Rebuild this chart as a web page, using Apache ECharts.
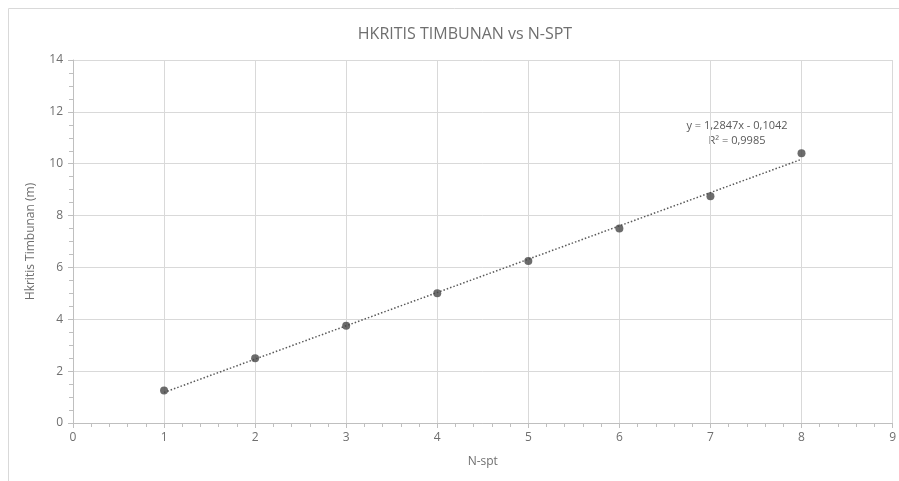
<!DOCTYPE html>
<html>
<head>
<meta charset="utf-8">
<script src="https://cdn.jsdelivr.net/npm/echarts@6/dist/echarts.min.js"></script>
<style>
  html, body { margin: 0; padding: 0; background: #fff; }
  #main { width: 899px; height: 481px; }
</style>
</head>
<body>
<div id="main"></div>
<script>
// data
var nSpt = [1, 2, 3, 4, 5, 6, 7, 8];
var hKritis = [1.25, 2.5, 3.75, 5.0, 6.25, 7.5, 8.75, 10.4];
// linear trendline end points (y = 1,2847x - 0,1042)
var trendX = [1, 8];
var trendY = [1.18, 10.17];
var trendText = ['y = 1,2847x - 0,1042', 'R\u00b2 = 0,9985'];

var chart = echarts.init(document.getElementById('main'));

var points = nSpt.map(function (x, i) { return [x, hKritis[i]]; });
var trend = trendX.map(function (x, i) { return [x, trendY[i]]; });

var font = '"Open Sans", "Liberation Sans", sans-serif';
var grey = '#595959';
var labelGrey = '#6f6f6f';

var option = {
    animation: false,
    textStyle: { fontFamily: font },
    title: {
        text: 'HKRITIS TIMBUNAN vs N-SPT',
        left: 460,
        top: 21,
        textAlign: 'center',
        textStyle: { fontSize: 16, fontWeight: 'normal', color: '#6f6f6f', fontFamily: font }
    },
    grid: { left: 73, right: 5, top: 60, bottom: 58 },
    xAxis: {
        type: 'value',
        min: 0, max: 9, interval: 1,
        name: 'N-spt',
        nameLocation: 'middle',
        nameGap: 33,
        nameTextStyle: { color: labelGrey, fontSize: 12 },
        axisLine: { lineStyle: { color: '#bfbfbf' } },
        axisTick: { show: true, length: 5, lineStyle: { color: '#bfbfbf' } },
        minorTick: { show: true, splitNumber: 5, length: 4, lineStyle: { color: '#bfbfbf' } },
        axisLabel: { color: labelGrey, fontSize: 12, margin: 9 },
        splitLine: { show: true, lineStyle: { color: '#d9d9d9' } }
    },
    yAxis: {
        type: 'value',
        min: 0, max: 14, interval: 2,
        name: 'Hkritis Timbunan (m)',
        nameLocation: 'middle',
        nameGap: 36,
        nameTextStyle: { color: labelGrey, fontSize: 12 },
        axisLine: { show: true, lineStyle: { color: '#bfbfbf' } },
        axisTick: { show: true, length: 5, lineStyle: { color: '#bfbfbf' } },
        minorTick: { show: true, splitNumber: 4, length: 4, lineStyle: { color: '#bfbfbf' } },
        axisLabel: { color: labelGrey, fontSize: 12, margin: 10 },
        splitLine: { show: true, lineStyle: { color: '#d9d9d9' } }
    },
    graphic: [
        {
            type: 'rect',
            shape: { x: 8.5, y: 8.5, width: 900, height: 480 },
            style: { fill: 'none', stroke: '#d9d9d9', lineWidth: 1 },
            silent: true
        },
        {
            type: 'text',
            x: 737,
            y: 118,
            style: {
                text: trendText.join('\n'),
                fill: grey,
                font: '11px ' + font,
                align: 'center',
                lineHeight: 15
            }
        }
    ],
    series: [
        {
            type: 'line',
            data: trend,
            showSymbol: false,
            lineStyle: { color: grey, width: 1.5, type: [1.5, 2] },
            z: 2
        },
        {
            type: 'scatter',
            data: points,
            symbolSize: 8,
            itemStyle: { color: '#474747' },
            z: 3
        }
    ]
};

chart.setOption(option);
</script>
</body>
</html>
